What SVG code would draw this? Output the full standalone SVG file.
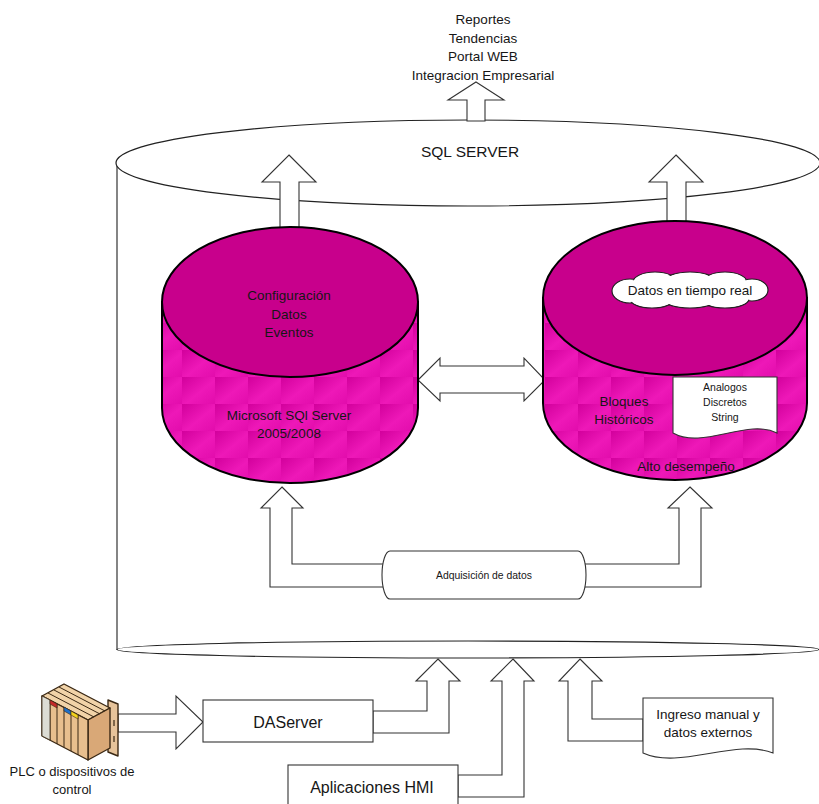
<svg xmlns="http://www.w3.org/2000/svg" width="819" height="804" viewBox="0 0 819 804">
  <defs>
    <linearGradient id="tileGrad" x1="0" y1="0" x2="1" y2="1">
      <stop offset="0" stop-color="#D2009C"/>
      <stop offset="0.55" stop-color="#EE18B8"/>
      <stop offset="1" stop-color="#E20CAC"/>
    </linearGradient>
    <pattern id="tiles" patternUnits="userSpaceOnUse" x="17" y="26" width="33" height="27">
      <rect width="33" height="27" fill="url(#tileGrad)"/>
    </pattern>
    <style>
      text { font-family: "Liberation Sans", Arial, sans-serif; fill: #161616; text-anchor: middle; }
      .body { font-size: 13.5px; }
      .small { font-size: 10.5px; }
      .big { font-size: 16px; }
      .conn { fill: #fff; stroke: #333; stroke-width: 1.1; stroke-linejoin: miter; }
      .shell { fill: #fff; stroke: #222; stroke-width: 1.2; }
      .side { fill: url(#tiles); stroke: #000; stroke-width: 2; }
      .lid { fill: #C8008C; stroke: #000; stroke-width: 2; }
      .box { fill: #fff; stroke: #333; stroke-width: 1.1; }
    </style>
  </defs>

  <!-- SQL SERVER outer cylinder -->
  <g id="sql-server">
    <line x1="117" y1="163" x2="117" y2="650" stroke="#333" stroke-width="1.2"/>
    <ellipse class="shell" cx="468" cy="163" rx="352" ry="43"/>
    <ellipse class="shell" cx="468" cy="649.5" rx="351" ry="8.5" stroke-width="1.5"/>
    <text x="470" y="157" style="font-size:15.5px">SQL SERVER</text>
  </g>

  <!-- output list -->
  <g id="outputs">
    <text class="body" x="483" y="24">Reportes</text>
    <text class="body" x="483" y="42.5">Tendencias</text>
    <text class="body" x="483" y="61">Portal WEB</text>
    <text class="body" x="483" y="79.5">Integracion Empresarial</text>
  </g>

  <!-- connectors -->
  <g id="connectors">
    <polygon class="conn" points="476,82 504,100 485,100 485,121 467,121 467,100 448,100"/>
    <polygon class="conn" points="289,155 316,182 299,182 299,232 280,232 280,182 262,182"/>
    <polygon class="conn" points="676,155 703,182 686,182 686,226 667,226 667,182 649,182"/>
    <polygon class="conn" points="418,380 440,358 440,366 524,366 524,358 545,380 524,401 524,393 440,393 440,401"/>
    <polygon class="conn" points="282,487 303,508 292,508 292,564 387,564 387,587 270,587 270,508 261,508"/>
    <polygon class="conn" points="690,487 712,508 701,508 701,587 581,587 581,564 679,564 679,508 668,508"/>
    <polygon class="conn" points="118,714 176,714 176,696 203,722 176,749 176,732 118,732"/>
    <polygon class="conn" points="438,659 460,681 449,681 449,733 373,733 373,711 427,711 427,681 416,681"/>
    <polygon class="conn" points="513,659 534,681 524,681 524,797 458,797 458,775 502,775 502,681 491,681"/>
    <polygon class="conn" points="580,659 602,681 592,681 592,719 643,719 643,741 568,741 568,681 559,681"/>
  </g>

  <!-- configuration database -->
  <g id="config-db">
    <path class="side" d="M162,302 V408 A128,75 0 0 0 418,408 V302 Z"/>
    <ellipse class="lid" cx="290" cy="302" rx="128" ry="75"/>
    <text class="body" x="289" y="300">Configuración</text>
    <text class="body" x="289" y="318.5">Datos</text>
    <text class="body" x="289" y="337">Eventos</text>
    <text class="body" x="289" y="419.5">Microsoft SQl Server</text>
    <text class="body" x="289" y="438">2005/2008</text>
  </g>

  <!-- historian database -->
  <g id="historian-db">
    <path class="side" d="M543,298 V403 A132,77 0 0 0 807,403 V298 Z"/>
    <ellipse class="lid" cx="675" cy="298" rx="132" ry="77"/>
    <g id="realtime-cloud">
      <g fill="#fff" stroke="#222" stroke-width="1.2">
        <ellipse cx="630" cy="291" rx="18" ry="12"/>
        <ellipse cx="655" cy="282" rx="22" ry="10"/>
        <ellipse cx="690" cy="281" rx="25" ry="9"/>
        <ellipse cx="725" cy="282" rx="22" ry="10"/>
        <ellipse cx="752" cy="290" rx="16" ry="11"/>
        <ellipse cx="725" cy="299" rx="24" ry="9"/>
        <ellipse cx="690" cy="300" rx="26" ry="8"/>
        <ellipse cx="652" cy="299" rx="22" ry="9"/>
      </g>
      <g fill="#fff">
        <ellipse cx="630" cy="291" rx="17" ry="11"/>
        <ellipse cx="655" cy="282" rx="21" ry="9"/>
        <ellipse cx="690" cy="281" rx="24" ry="8"/>
        <ellipse cx="725" cy="282" rx="21" ry="9"/>
        <ellipse cx="752" cy="290" rx="15" ry="10"/>
        <ellipse cx="725" cy="299" rx="23" ry="8"/>
        <ellipse cx="690" cy="300" rx="25" ry="7"/>
        <ellipse cx="652" cy="299" rx="21" ry="8"/>
        <ellipse cx="690" cy="290" rx="62" ry="11"/>
      </g>
      <text class="body" x="690" y="295">Datos en tiempo real</text>
    </g>
    <text class="body" x="624" y="406">Bloques</text>
    <text class="body" x="624" y="423.5">Históricos</text>
    <path class="box" d="M673,377 H777 V433 C747,418 703,450 673,433 Z"/>
    <text class="small" x="725" y="391">Analogos</text>
    <text class="small" x="725" y="406">Discretos</text>
    <text class="small" x="725" y="420.5">String</text>
    <text class="body" x="686" y="471">Alto desempeño</text>
  </g>

  <!-- data acquisition -->
  <g id="acquisition">
    <path class="box" d="M390,551 H578 A8,24 0 0 1 578,599 H390 A8,24 0 0 1 390,551 Z"/>
    <text x="484" y="579" style="font-size:10.4px">Adquisición de datos</text>
  </g>

  <!-- DAServer -->
  <g id="daserver">
    <rect class="box" x="203" y="700" width="170" height="42"/>
    <text class="big" x="288" y="727.5">DAServer</text>
  </g>

  <!-- HMI applications -->
  <g id="hmi">
    <rect class="box" x="288" y="765" width="170" height="50"/>
    <text class="big" x="372" y="793">Aplicaciones HMI</text>
  </g>

  <!-- manual / external input -->
  <g id="manual-input">
    <path class="box" d="M643,698 H773 V753 C735,738 680,770 643,753 Z"/>
    <text class="body" x="708" y="719">Ingreso manual y</text>
    <text class="body" x="708" y="736.5">datos externos</text>
  </g>

  <!-- PLC rack -->
  <g id="plc" stroke="#3a2814" stroke-width="1.4" stroke-linejoin="round">
    <polygon points="108,700 118,704 118,756 108,752" fill="#e6c39a"/>
    <polygon points="42,696 64,684 110,708 88,720" fill="#f1d3a8"/>
    <polygon points="88,720 110,708 110,748 88,760" fill="#d9a877"/>
    <polygon points="42,696 88,720 88,760 42,736" fill="#e8bf8e"/>
    <g stroke-width="1" fill="none">
      <line x1="48" y1="693" x2="94" y2="717"/>
      <line x1="54" y1="690" x2="100" y2="714"/>
      <line x1="59" y1="687" x2="105" y2="711"/>
      <line x1="50" y1="700" x2="50" y2="740"/>
      <line x1="57" y1="704" x2="57" y2="744"/>
      <line x1="64" y1="707" x2="64" y2="747"/>
      <line x1="71" y1="711" x2="71" y2="751"/>
      <line x1="78" y1="715" x2="78" y2="755"/>
    </g>
    <polygon points="42,696 50,700 50,740 42,736" fill="#dcdcd4" stroke-width="0.8"/>
    <polygon points="50,700 57,704 57,708 50,704" fill="#c62828" stroke-width="0.6"/>
    <polygon points="64,707 71,711 71,715 64,711" fill="#1e6fc8" stroke-width="0.6"/>
    <polygon points="71,711 78,715 78,719 71,715" fill="#f2d21c" stroke-width="0.6"/>
    <line x1="114" y1="720" x2="114" y2="726" stroke-width="1.2"/>
    <line x1="114" y1="736" x2="114" y2="742" stroke-width="1.2"/>
  </g>
  <g id="plc-label">
    <text x="72" y="776" style="font-size:13px">PLC o dispositivos de</text>
    <text x="72" y="794" style="font-size:13px">control</text>
  </g>
</svg>
